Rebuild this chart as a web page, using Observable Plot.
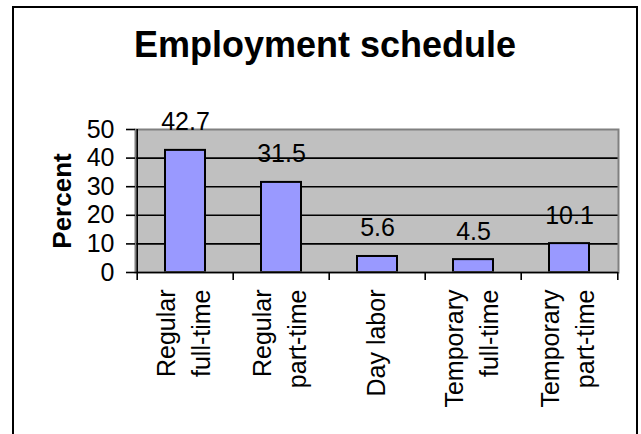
<!DOCTYPE html>
<html>
<head>
<meta charset="utf-8">
<script src="https://cdn.jsdelivr.net/npm/d3@7"></script>
<script src="https://cdn.jsdelivr.net/npm/@observablehq/plot@0.6"></script>
<style>
  html, body { margin: 0; padding: 0; width: 641px; height: 434px; overflow: hidden; background: white; }
  #chart { position: absolute; left: 0; top: 0; }
  #border { position: absolute; left: 12px; top: 6px; width: 626px; height: 500px; border: 2px solid black; box-sizing: border-box; pointer-events: none; }
  #title { position: absolute; left: 13px; width: 624px; top: 27px; line-height: 36px; text-align: center;
           font-family: "Liberation Sans", Arial, sans-serif; font-weight: bold; font-size: 36px; color: black; }
</style>
</head>
<body>
<div id="chart"></div>
<div id="border"></div>
<div id="title">Employment schedule</div>
<script>
const title = "Employment schedule";
const yLabel = "Percent";
const categories = ["Regular full-time", "Regular part-time", "Day labor", "Temporary full-time", "Temporary part-time"];
const tickLabels = ["Regular\nfull-time", "Regular\npart-time", "Day labor", "Temporary\nfull-time", "Temporary\npart-time"];
const values = [42.7, 31.5, 5.6, 4.5, 10.1];
const yTicks = [0, 10, 20, 30, 40, 50];
const gridLines = [10, 20, 30, 40];

document.getElementById("title").textContent = title;

const data = categories.map((c, i) => ({cat: c, value: values[i]}));
const labelOf = new Map(categories.map((c, i) => [c, tickLabels[i]]));

const W = 641, H = 434, mL = 135, mR = 23, mT = 129, mB = 162;
const step = (W - mL - mR) / categories.length;

const chart = Plot.plot({
  width: W,
  height: H,
  marginLeft: mL,
  marginRight: mR,
  marginTop: mT,
  marginBottom: mB,
  style: {fontFamily: "'Liberation Sans', Arial, sans-serif", fontSize: "25px", background: "transparent", overflow: "visible", color: "black"},
  x: {domain: categories, paddingInner: 0.586, paddingOuter: 0.293, axis: null},
  y: {domain: [0, 50], axis: null},
  marks: [
    Plot.frame({fill: "#c0c0c0"}),
    Plot.ruleY(gridLines, {stroke: "black", strokeWidth: 1.6}),
    Plot.barY(data, {x: "cat", y: "value", fill: "#9999ff", stroke: "black", strokeWidth: 2}),
    Plot.frame({stroke: "#808080", strokeWidth: 2}),
    Plot.ruleY([0], {stroke: "black", strokeWidth: 1.6}),
    Plot.ruleX([categories[0]], {dx: -step / 2, stroke: "black", strokeWidth: 1.6}),
    Plot.axisY({ticks: yTicks, tickSize: 9, tickPadding: 12, fontSize: 25, label: null, strokeWidth: 1.6}),
    Plot.axisX({ticks: categories, tickSize: 8, tickFormat: () => "", dx: -step / 2, label: null, strokeWidth: 1.6}),
    Plot.axisX({ticks: [categories[categories.length - 1]], tickSize: 8, tickFormat: () => "", dx: step / 2, label: null, strokeWidth: 1.6}),
    Plot.axisX({ticks: categories, tickSize: 0, tickPadding: 17, tickRotate: -90, textAnchor: "end", lineAnchor: "middle",
                lineHeight: 1.4, fontSize: 25, dx: -4, tickFormat: d => labelOf.get(d), label: null}),
    Plot.text(data, {x: "cat", y: "value", text: d => d.value.toFixed(1), dy: -20, lineAnchor: "bottom", textAnchor: "middle", fontSize: 25, fill: "black"}),
    Plot.text([yLabel], {frameAnchor: "left", dx: -73, rotate: -90, textAnchor: "middle", lineAnchor: "middle", fontSize: 26, fontWeight: "bold", fill: "black"})
  ]
});
document.getElementById("chart").appendChild(chart);
</script>
</body>
</html>
